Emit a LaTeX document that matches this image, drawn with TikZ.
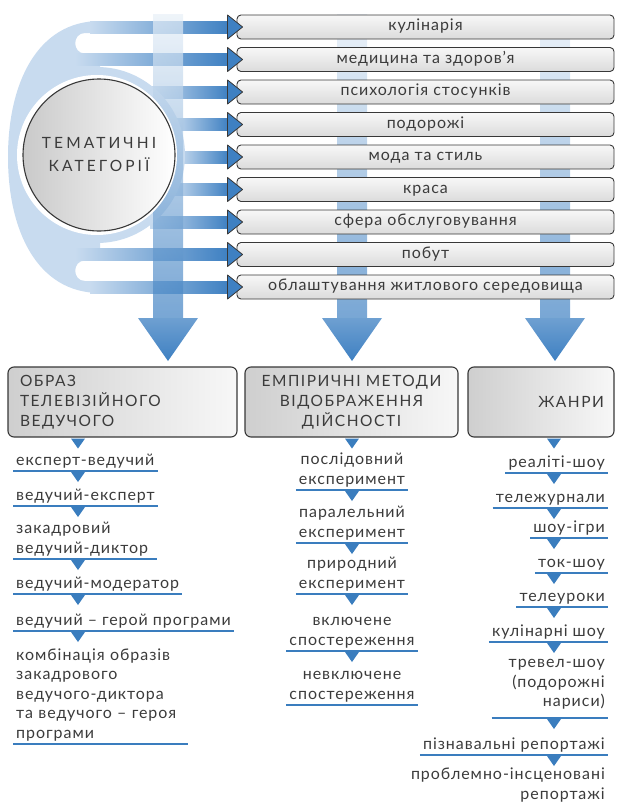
\documentclass[tikz,border=0pt]{standalone}
\usepackage{fontspec}
\setmainfont{Lato}
\newfontfamily\capsfont[LetterSpace=10]{Lato}
\newfontfamily\circfont[LetterSpace=20]{Lato}
\newfontfamily\itemfamily[LetterSpace=6]{Lato}
\usetikzlibrary{calc}

\definecolor{ringblue}{HTML}{C8DBEF}
\definecolor{arrowblue}{HTML}{3E80C2}
\definecolor{lineblue}{HTML}{3A7DBE}
\definecolor{textgray}{HTML}{3B3B3B}
\definecolor{edgegray}{HTML}{383838}

\pgfdeclarelayer{back}
\pgfsetlayers{back,main}

\newcommand\itemfont{\itemfamily\fontsize{16}{19.5}\selectfont}
\newcommand\dstrut{\rule[-4pt]{0pt}{4pt}}
\newcommand\droptri[1]{\fill[lineblue] (#1) ++(-7,1) -- ++(14,0) -- ++(-7,10) -- cycle;}

\tikzset{
  catbox/.style={draw=edgegray, line width=0.9pt, rounded corners=4pt,
    top color=gray!6, bottom color=gray!28, minimum width=377pt,
    minimum height=24pt, inner sep=0pt, text height=11pt, text depth=3.5pt,
    text=textgray, font=\itemfont},
  headbox/.style={draw=edgegray, line width=1.1pt, rounded corners=6pt,
    left color=gray!38, right color=gray!6, minimum height=70pt,
    inner xsep=12pt, text=textgray, font=\capsfont\fontsize{15.5}{20}\selectfont},
  item/.style={inner xsep=3pt, inner ysep=1.5pt, execute at end node=\dstrut,
    text=textgray, font=\itemfont},
  uline/.style={draw=lineblue, line width=2pt},
  shaft/.style={left color=ringblue, right color=arrowblue},
  tip/.style={fill=arrowblue, draw=edgegray, line width=0.8pt, line join=round}
}

\begin{document}
\begin{tikzpicture}[x=1pt, y=-1pt]
    \useasboundingbox (0,0) rectangle (616,806);

    \foreach \txt [count=\i] in {кулінарія, медицина та здоров’я, психологія стосунків, подорожі, мода та стиль, краса, сфера обслуговування, побут, облаштування житлового середовища}
        \node[catbox] (cat\i) at (425.5,{27+32.5*(\i-1)}) {\txt};

    \fill[white] (97,155) circle (80);
    \node[circle, draw=edgegray, line width=1.1pt, minimum size=152pt, inner sep=0pt,
        left color=gray!42, right color=white, text=textgray, align=center,
        font=\circfont\fontsize{15.5}{23}\selectfont] (tema) at (99,155) {ТЕМАТИЧНІ\\КАТЕГОРІЇ};

    \foreach \i in {1,...,9}
        \draw[tip] ($(cat\i.west)+(-9,-12)$) -- ($(cat\i.west)+(6,0)$) -- ($(cat\i.west)+(-9,12)$) -- cycle;

    \node[headbox, minimum width=229pt, text width=205pt, align=left] (obraz) at (122.5,402) {ОБРАЗ\\ТЕЛЕВІЗІЙНОГО\\ВЕДУЧОГО};
    \node[headbox, minimum width=213pt, inner xsep=6pt, text width=201pt, align=center] (metody) at (351.5,402) {ЕМПІРИЧНІ МЕТОДИ\\ВІДОБРАЖЕННЯ\\ДІЙСНОСТІ};
    \node[headbox, minimum width=146pt, inner xsep=10pt, text width=126pt, align=right] (zhanry) at (541,402) {ЖАНРИ};

    \begin{pgfonlayer}{back}
        \foreach \i/\sx in {3/150,4/172,5/178,6/172,7/150}
            \shade[shaft] (\sx,{27+32.5*(\i-1)-6}) rectangle ($(cat\i.west)+(-8,6)$);
        \fill[ringblue] (100,21) .. controls (38,21) and (8,82) .. (8,157) .. controls (8,232) and (38,293) .. (100,293)
            -- (100,281) -- (85,281) .. controls (72,281) and (72,260.5) .. (85,260.5) -- (100,260.5)
            -- (100,53.5) -- (85,53.5) .. controls (72,53.5) and (72,33) .. (85,33) -- (100,33) -- cycle;
        \fill[ringblue] (97,155) circle (88);
        \foreach \i/\sx in {1/90,2/75,8/75,9/90}
            \shade[shaft] (\sx,{27+32.5*(\i-1)-6}) rectangle ($(cat\i.west)+(-8,6)$);
        \foreach \bx in {168,352,555} {
            \shade[top color=arrowblue!12, bottom color=arrowblue, opacity=0.7] (\bx-15,14) rectangle (\bx+15,319);
            \shade[top color=arrowblue!75, bottom color=arrowblue] (\bx-30,318) -- (\bx+30,318) -- (\bx,361) -- cycle;
        }
    \end{pgfonlayer}

    \node[item, anchor=south west, align=left] (ved1) at (13,471) {експерт-ведучий};
    \node[item, anchor=south west, align=left] (ved2) at (13,506) {ведучий-експерт};
    \node[item, anchor=south west, align=left, text width=138pt] (ved3) at (13,559) {закадровий\\ведучий-диктор};
    \node[item, anchor=south west, align=left] (ved4) at (13,594) {ведучий-модератор};
    \node[item, anchor=south west, align=left] (ved5) at (13,631) {ведучий – герой програми};
    \node[item, anchor=south west, align=left, text width=169pt] (ved6) at (13,744) {комбінація образів\\закадрового\\ведучого-диктора\\та ведучого – героя\\програми};

    \node[item, anchor=south, align=center] (met1) at (352,490) {послідовний\\експеримент};
    \node[item, anchor=south, align=center] (met2) at (352,543) {паралельний\\експеримент};
    \node[item, anchor=south, align=center] (met3) at (352,594) {природний\\експеримент};
    \node[item, anchor=south, align=center] (met4) at (352,651) {включене\\спостереження};
    \node[item, anchor=south, align=center] (met5) at (352,705) {невключене\\спостереження};

    \node[item, anchor=south east, align=right] (zh1) at (608,473) {реаліті-шоу};
    \node[item, anchor=south east, align=right] (zh2) at (608,508) {тележурнали};
    \node[item, anchor=south east, align=right] (zh3) at (608,538) {шоу-ігри};
    \node[item, anchor=south east, align=right] (zh4) at (608,573) {ток-шоу};
    \node[item, anchor=south east, align=right] (zh5) at (608,607) {телеуроки};
    \node[item, anchor=south east, align=right] (zh6) at (608,642) {кулінарні шоу};
    \node[item, anchor=south east, align=right, text width=110pt, inner ysep=7pt] (zh7) at (608,718) {тревел-шоу\\(подорожні\\нариси)};
    \node[item, anchor=south east, align=right] (zh8) at (608,755) {пізнавальні репортажі};
    \node[item, anchor=south east, align=right] (zh9) at (608,805) {проблемно-інсценовані\\репортажі};

    \foreach \n in {ved1,ved2,ved3,ved4,ved5,ved6,met1,met2,met3,met4,met5,zh1,zh2,zh3,zh4,zh5,zh6,zh7,zh8}
        \draw[uline] (\n.south west) -- (\n.south east);

    \coordinate (xl) at (78,0);
    \coordinate (xm) at (352,0);
    \coordinate (xr) at (554,0);
    \foreach \n in {obraz,ved1,ved2,ved3,ved4,ved5}
        {\droptri{\n.south -| xl}}
    \foreach \n in {metody,met1,met2,met3,met4}
        {\droptri{\n.south -| xm}}
    \foreach \n in {zhanry,zh1,zh2,zh3,zh4,zh5,zh6,zh7,zh8}
        {\droptri{\n.south -| xr}}
\end{tikzpicture}
\end{document}
